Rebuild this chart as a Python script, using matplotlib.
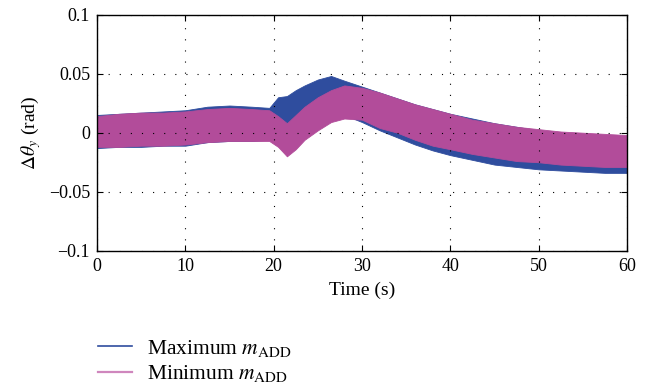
import numpy as np
import matplotlib
matplotlib.use("Agg")
import matplotlib.pyplot as plt
from matplotlib.lines import Line2D

# envelope of the noisy signals (rad)
t = [0, 2.5, 5, 7.5, 10, 12.5, 15, 17.5, 19.5, 20.5, 21.5, 22.5, 23.5, 25,
     26.5, 28, 30, 32, 34, 36, 38, 40, 42.5, 45, 47.5, 50, 52.5, 55, 57.5, 60]

max_top = [0.015, 0.016, 0.017, 0.018, 0.019, 0.022, 0.023, 0.022, 0.021, 0.030,
           0.031, 0.036, 0.040, 0.045, 0.048, 0.044, 0.039, 0.034, 0.029, 0.024,
           0.020, 0.016, 0.012, 0.008, 0.005, 0.002, 0.000, -0.001, -0.002, -0.003]
max_bot = [-0.013, -0.012, -0.012, -0.011, -0.011, -0.008, -0.007, -0.007, -0.006, 0.008,
           0.006, 0.011, 0.014, 0.017, 0.018, 0.015, 0.009, 0.002, -0.004, -0.010,
           -0.015, -0.019, -0.023, -0.027, -0.029, -0.031, -0.032, -0.033, -0.034, -0.034]

min_top = [0.014, 0.016, 0.017, 0.017, 0.018, 0.020, 0.021, 0.020, 0.019, 0.014,
           0.008, 0.015, 0.022, 0.030, 0.036, 0.040, 0.038, 0.034, 0.029, 0.024,
           0.020, 0.016, 0.011, 0.008, 0.005, 0.003, 0.001, 0.000, -0.001, -0.002]
min_bot = [-0.012, -0.012, -0.011, -0.011, -0.010, -0.008, -0.007, -0.007, -0.007, -0.012,
           -0.020, -0.014, -0.006, 0.002, 0.009, 0.012, 0.011, 0.004, 0.000, -0.006,
           -0.011, -0.014, -0.018, -0.021, -0.024, -0.025, -0.027, -0.028, -0.029, -0.029]

x_ticks = [0, 10, 20, 30, 40, 50, 60]
y_ticks = [-0.1, -0.05, 0, 0.05, 0.1]
y_labels = ["\u22120.1", "\u22120.05", "0", "0.05", "0.1"]

blue = "#2f4d9e"
pink = "#b24c9a"

plt.rcParams["font.family"] = ["Liberation Serif", "DejaVu Serif"]
plt.rcParams["mathtext.fontset"] = "stix"

fig = plt.figure(figsize=(6.6, 3.92), dpi=100)
ax = fig.add_axes([0.147, 0.360, 0.803, 0.603])

ax.fill_between(t, max_bot, max_top, color=blue, lw=0.6, edgecolor=blue)
ax.fill_between(t, min_bot, min_top, color=pink, lw=0.6, edgecolor=pink)

ax.set_xlim(0, 60)
ax.set_ylim(-0.1, 0.1)
ax.set_xticks(x_ticks)
ax.set_yticks(y_ticks)
ax.set_yticklabels(y_labels)
ax.tick_params(direction="in", length=4, top=True, right=True, labelsize=13, pad=5)
ax.grid(True, color="black", linestyle=(0, (1, 9)), linewidth=0.8)
for s in ax.spines.values():
    s.set_linewidth(1.0)

ax.set_xlabel("Time (s)", fontsize=14, labelpad=5)
ax.set_ylabel(r"$\Delta\theta_y$ (rad)", fontsize=14, labelpad=4)

handles = [Line2D([0], [0], color=blue, lw=1.2),
           Line2D([0], [0], color="#cf86bd", lw=1.6)]
fig.legend(handles, [r"Maximum $m_{\mathrm{ADD}}$", r"Minimum $m_{\mathrm{ADD}}$"],
           loc="upper left", bbox_to_anchor=(0.148, 0.138), frameon=False,
           fontsize=15.5, handlelength=1.6, handletextpad=0.7, labelspacing=0.2,
           borderaxespad=0, borderpad=0)

fig.savefig("out.png", dpi=100)
